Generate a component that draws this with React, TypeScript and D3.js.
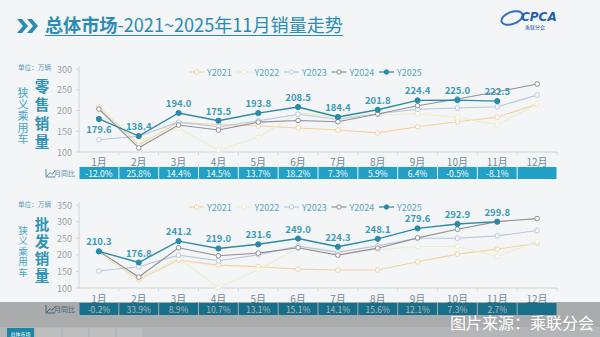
import React from "react";
import * as d3 from "d3";

const months = ["1月","2月","3月","4月","5月","6月","7月","8月","9月","10月","11月","12月"];
const seriesNames = ["Y2021","Y2022","Y2023","Y2024","Y2025"];

const retail2021 = [208.9,117.4,171.1,166.1,163.0,158.0,153.0,146.0,161.0,173.0,184.0,215.0];
const retail2022 = [205.8,127.2,157.1,104.2,135.1,194.3,184.1,189.0,192.2,183.5,165.8,215.6];
const retail2023 = [129.4,138.0,172.0,161.0,175.0,191.0,179.0,192.0,203.0,206.0,209.0,237.0];
const retail2024 = [203.6,110.0,165.0,153.0,172.0,176.0,173.0,191.5,211.6,227.7,245.0,264.0];
const retail2025 = [179.6,138.4,194.0,175.5,193.8,208.5,184.4,201.8,224.4,225.0,222.5];
const retailYoY = ["-12.0%","25.8%","14.4%","14.5%","13.7%","18.2%","7.3%","5.9%","6.4%","-0.5%","-8.1%",""];

const whole2021 = [207.0,125.0,184.0,169.0,164.0,157.0,154.0,154.0,179.0,202.0,217.0,235.0];
const whole2022 = [207.0,130.0,190.0,101.0,155.0,220.0,207.0,215.0,225.0,225.0,195.0,240.0];
const whole2023 = [151.0,164.0,199.0,182.0,200.0,226.0,208.0,227.0,250.0,250.0,257.0,273.0];
const whole2024 = [210.7,133.0,221.0,197.0,205.0,221.0,199.0,220.0,251.0,277.0,300.0,309.0];
const whole2025 = [210.3,176.8,241.2,219.0,231.6,249.0,224.3,248.1,279.6,292.9,299.8];
const wholeYoY = ["-0.2%","33.9%","8.9%","10.7%","13.1%","15.1%","14.1%","15.6%","12.1%","7.3%","2.7%",""];

const retailTicks = [100,150,200,250,300];
const wholeTicks = [100,150,200,250,300,350];

const colors = ["#f3d3a0","#eceec8","#b9c7dc","#8f9099","#2b8aa6"];
const labelColor = "#3b9bb8";
const FONT = "'Noto Sans CJK SC','Noto Sans',sans-serif";

type PanelProps = {
  top: number; bottom: number; domain: [number, number]; ticks: number[];
  series: number[][]; yoy: string[]; legendY: number; monthY: number; tableY: number;
  vtitle: string[]; vtitleY: number[]; subY: number[]; subSize: number; unitY: number; labelBelow: boolean[];
};

function Panel(p: PanelProps) {
  const x = d3.scaleBand<string>().domain(months).range([79, 557]).padding(0);
  const y = d3.scaleLinear().domain(p.domain).range([p.bottom, p.top]);
  const cx = (i: number) => (x(months[i]) as number) + x.bandwidth() / 2;
  const line = d3.line<number>().x((_, i) => cx(i)).y((d) => y(d));
  const sub = ["狭","义","乘","用","车"];
  return (
    <g>
      <text x={18} y={p.unitY} fontSize={7} fill="#5a9fb8" fontFamily={FONT} textLength={33} lengthAdjust="spacingAndGlyphs">单位：万辆</text>
      {sub.map((c, i) => (
        <text key={c} x={23} y={p.subY[i]} fontSize={p.subSize} fill="#4aa6c6" textAnchor="middle" dominantBaseline="central" fontFamily={FONT}>{c}</text>
      ))}
      {p.vtitle.map((c, i) => (
        <text key={c} x={42} y={p.vtitleY[i]} fontSize={14.5} fontWeight="bold" fill="#2f93b6" textAnchor="middle" dominantBaseline="central" fontFamily={FONT}>{c}</text>
      ))}
      {p.ticks.map((t) => (
        <g key={t}>
          <text x={72} y={y(t)} fontSize={9} fill="#9aa4aa" textAnchor="end" dominantBaseline="central" fontFamily={FONT}>{t}</text>
          <line x1={76} x2={79} y1={y(t)} y2={y(t)} stroke="#cfd6da" />
        </g>
      ))}
      <line x1={79} x2={79} y1={p.top - 3} y2={p.bottom} stroke="#cfd6da" />
      <line x1={79} x2={557} y1={p.bottom} y2={p.bottom} stroke="#cfd6da" />
      {months.map((m) => (
        <line key={m} x1={(x(m) as number) + x.bandwidth()} x2={(x(m) as number) + x.bandwidth()} y1={p.bottom} y2={p.bottom + 3} stroke="#cfd6da" />
      ))}
      {months.map((m, i) => (
        <text key={m} x={cx(i)} y={p.monthY} fontSize={10} fill="#6f8c99" textAnchor="middle" dominantBaseline="central" fontFamily={FONT}>{m}</text>
      ))}
      {p.series.map((s, k) => (
        <g key={k}>
          <path d={line(s) || ""} fill="none" stroke={colors[k]} strokeWidth={k === 4 ? 1.4 : 1.1} />
          {s.map((v, i) => (
            <circle key={i} cx={cx(i)} cy={y(v)} r={k === 4 ? 2.6 : 2.3} fill={k === 4 ? colors[k] : "#ffffff"} stroke={colors[k]} strokeWidth={1} />
          ))}
        </g>
      ))}
      {p.series[4].map((v, i) => (
        <text key={i} x={cx(i)} y={p.labelBelow[i] ? y(v) + 10 : y(v) - 10} fontSize={9.5} fontWeight="bold" fill={labelColor} textAnchor="middle" dominantBaseline="central" fontFamily={FONT}>{v.toFixed(1)}</text>
      ))}
      {seriesNames.map((n, k) => {
        const lx = 189 + k * 47.5;
        return (
          <g key={n}>
            <line x1={lx} x2={lx + 15} y1={p.legendY} y2={p.legendY} stroke={colors[k]} strokeWidth={1.2} />
            <circle cx={lx + 7.5} cy={p.legendY} r={2.2} fill={k === 4 ? colors[k] : "#fff"} stroke={colors[k]} />
            <text x={lx + 18} y={p.legendY} fontSize={9} fill="#5aa6c2" dominantBaseline="central" fontFamily={FONT}>{n}</text>
          </g>
        );
      })}
      <g>
        <path d={`M47 ${p.tableY + 9} l3 -3.5 l2 2 l3.5 -4.5`} stroke="#5a8fa8" fill="none" strokeWidth={1} />
        <path d={`M46 ${p.tableY + 2} v8 h9`} stroke="#5a8fa8" fill="none" strokeWidth={1} />
        <text x={54} y={p.tableY + 6} fontSize={7} fill="#5a8fa8" dominantBaseline="central" fontFamily={FONT}>月同比</text>
      </g>
      {months.map((m, i) => (
        <g key={m}>
          <rect x={(x(m) as number) + 0.5} y={p.tableY} width={x.bandwidth() - 1} height={12} fill="#23a0c6" />
          <text x={cx(i)} y={p.tableY + 6.3} fontSize={8.5} fill="#ffffff" textAnchor="middle" dominantBaseline="central" fontFamily={FONT}>{p.yoy[i]}</text>
        </g>
      ))}
    </g>
  );
}

export default function App() {
  return (
    <svg width={600} height={337} style={{ position: "absolute", left: 0, top: 0, display: "block" }}>
      <rect width={600} height={337} fill="#f3f5f6" />
      <path d="M17 19 l6 7 l-6 7 h5 l6 -7 l-6 -7 z M27 19 l6 7 l-6 7 h5 l6 -7 l-6 -7 z" fill="#2a8cb4" />
      <text x={45} y={32} fontSize={18.5} fill="#2a8cb4" fontFamily={FONT} textLength={298} lengthAdjust="spacingAndGlyphs">
        <tspan fontWeight="bold">总体市场</tspan><tspan>-2021~2025年11月销量走势</tspan>
      </text>
      <line x1={45} x2={343} y1={35.5} y2={35.5} stroke="#2a8cb4" strokeWidth={1.2} />
      <g>
        <ellipse cx={512} cy={18} rx={11} ry={6} fill="none" stroke="#2f6fc0" strokeWidth={2} transform="rotate(-20 512 18)" />
        <text x={521} y={21} fontSize={12} fontStyle="italic" fontWeight="bold" fill="#1f5fb0" fontFamily="'DejaVu Sans',sans-serif">CPCA</text>
        <text x={525} y={29} fontSize={5} fill="#1f5fb0" fontFamily={FONT}>乘联分会</text>
      </g>
      <Panel top={69} bottom={152} domain={[100, 300]} ticks={retailTicks}
        series={[retail2021, retail2022, retail2023, retail2024, retail2025]} yoy={retailYoY}
        legendY={72} monthY={161} tableY={167}
        vtitle={["零","售","销","量"]} vtitleY={[85, 103.5, 122, 140.5]}
        subY={[92, 103.5, 115, 126.5, 138]} subSize={11} unitY={70}
        labelBelow={[true,false,false,false,false,false,false,false,false,false,false]} />
      <Panel top={205} bottom={288} domain={[100, 350]} ticks={wholeTicks}
        series={[whole2021, whole2022, whole2023, whole2024, whole2025]} yoy={wholeYoY}
        legendY={207} monthY={298} tableY={303}
        vtitle={["批","发","销","量"]} vtitleY={[223, 240, 257, 274]}
        subY={[229.5, 240, 250.5, 261, 271.5]} subSize={9.5} unitY={207}
        labelBelow={[false,false,false,false,false,false,false,false,false,false,false]} />
      <rect x={0} y={302} width={600} height={35} fill="#000" opacity={0.3} />
      <rect x={0} y={327} width={600} height={10} fill="#ffffff" opacity={0.12} />
      <rect x={7} y={328} width={27} height={9} fill="#1b86a4" />
      <text x={20.5} y={333} fontSize={5} fill="#fff" textAnchor="middle" dominantBaseline="central" fontFamily={FONT}>总体市场</text>
      {[0, 1, 2, 3].map((i) => (
        <rect key={i} x={36 + i * 27} y={328} width={25} height={9} fill="#c4c4c4" opacity={0.6} />
      ))}
      <text x={594} y={329} fontSize={16} fill="#ffffff" textAnchor="end" fontFamily={FONT}>图片来源：乘联分会</text>
    </svg>
  );
}
